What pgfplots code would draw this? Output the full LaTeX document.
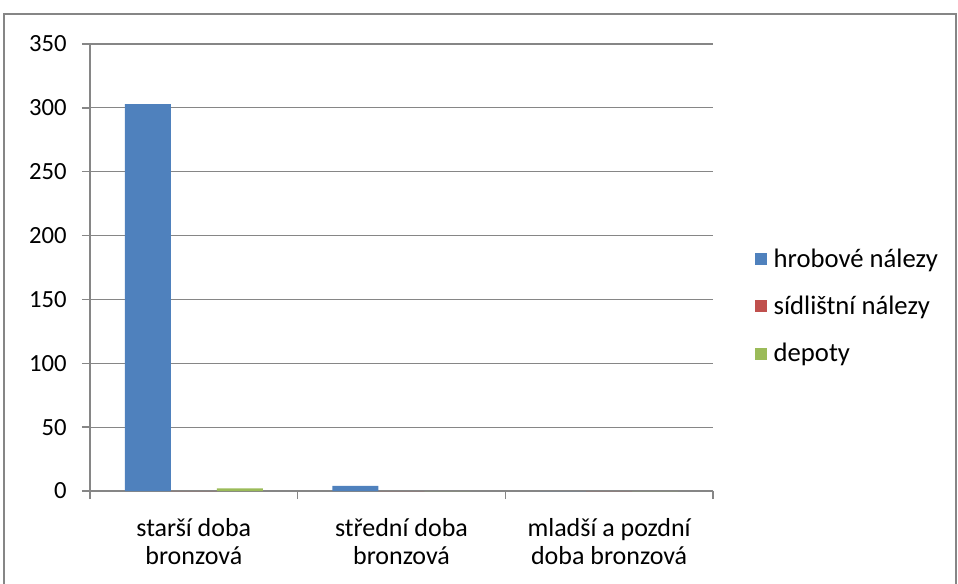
\documentclass[border=0pt]{standalone}
\usepackage{fontspec}
\setmainfont{Carlito}
\usepackage{pgfplots}
\pgfplotsset{compat=1.18}
\definecolor{cblue}{HTML}{4F81BD}
\definecolor{cred}{HTML}{C0504D}
\definecolor{cgreen}{HTML}{9BBB59}
\definecolor{cgrid}{HTML}{868686}
\begin{document}
\begin{tikzpicture}
\begin{axis}[
  name=ax, at={(0,0)}, anchor=south west,
  scale only axis, width=467.25pt, height=335.25pt,
  ymin=0, ymax=350, ytick={0,50,...,350},
  xmin=-0.5, xmax=2.5,
  xtick={0,1,2},
  xticklabels={{starší doba\\bronzová},{střední doba\\bronzová},{mladší a pozdní\\doba bronzová}},
  minor xtick={-0.5,0.5,1.5,2.5},
  major x tick style={draw=none},
  minor x tick style={draw=cgrid,line width=1pt},
  minor tick length=6pt,
  major tick length=6pt,
  tick align=outside,
  ytick style={draw=cgrid,line width=1pt},
  axis x line*=bottom, axis y line*=left,
  axis line style={draw=cgrid,line width=1pt,-},
  ymajorgrids, grid style={draw=cgrid,line width=0.8pt},
  yticklabel style={font=\fontsize{18.5}{24}\selectfont, xshift=-8pt},
  /pgf/number format/assume math mode=true,
  xticklabel style={font=\fontsize{19.5}{21}\selectfont, align=center, yshift=-11pt},
  ybar=0pt, bar width=34.5pt,
  legend style={at={(1.067,0.548)}, anchor=north west, draw=none, fill=none,
    font=\fontsize{20}{21}\selectfont, row sep=16pt, inner sep=0pt,
    nodes={inner xsep=5pt}},
  legend cell align=left,
  legend image code/.code={\fill[#1] (0pt,-4.5pt) rectangle (9pt,4.5pt);},
]
\addplot[fill=cblue, draw=none, bar shift=-34.5pt] coordinates {(0,303) (1,4) (2,0)};
\addplot[fill=cred, draw=none, bar shift=0pt] coordinates {(0,0) (1,0) (2,0)};
\addplot[fill=cgreen, draw=none, bar shift=34.5pt] coordinates {(0,2) (1,0) (2,0)};
\legend{hrobové nálezy, sídlištní nálezy, depoty}
\end{axis}
\pgfresetboundingbox
\path[use as bounding box] ([shift={(-67.5pt,-69pt)}]ax.south west) rectangle ([shift={(651pt,368.25pt)}]ax.south west);
\draw[cgrid,line width=0.9pt] ([shift={(-64.5pt,-80pt)}]ax.south west) -- ([shift={(-64.5pt,357.75pt)}]ax.south west) -- ([shift={(649.5pt,357.75pt)}]ax.south west) -- ([shift={(649.5pt,-80pt)}]ax.south west);
\end{tikzpicture}
\end{document}
